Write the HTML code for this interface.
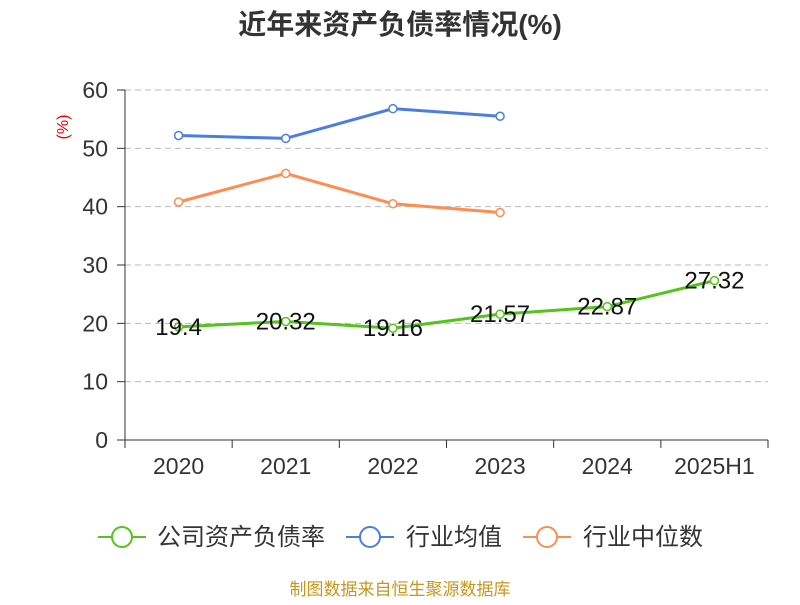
<!DOCTYPE html>
<html><head><meta charset="utf-8"><style>
body{margin:0;background:#fff;font-family:"Liberation Sans","Noto Sans CJK SC",sans-serif;}
</style></head><body>
<svg width="800" height="600" xmlns="http://www.w3.org/2000/svg" font-family="Liberation Sans, Noto Sans CJK SC, sans-serif">
<text x="400" y="34" text-anchor="middle" font-size="28" font-weight="bold" fill="#333">近年来资产负债率情况(%)</text>
<text x="68" y="127" text-anchor="middle" font-size="16" fill="#e00" transform="rotate(-90 68 127)">(%)</text>
<g id="grid"></g><g id="axes"></g><g id="series"></g>
<g>
<g><line x1="98" y1="537" x2="146" y2="537" stroke="#52c41a" stroke-width="2"/><circle cx="122" cy="537" r="10" fill="#fff" stroke="#52c41a" stroke-width="2"/><text x="157" y="545" font-size="24" fill="#333">公司资产负债率</text></g>
<g><line x1="346" y1="537" x2="394" y2="537" stroke="#4a7fe0" stroke-width="2"/><circle cx="370" cy="537" r="10" fill="#fff" stroke="#4a7fe0" stroke-width="2"/><text x="406" y="545" font-size="24" fill="#333">行业均值</text></g>
<g><line x1="523" y1="537" x2="571" y2="537" stroke="#ff8c50" stroke-width="2"/><circle cx="547" cy="537" r="10" fill="#fff" stroke="#ff8c50" stroke-width="2"/><text x="583" y="545" font-size="24" fill="#333">行业中位数</text></g>
</g>
<text x="400" y="595" text-anchor="middle" font-size="17" fill="#c8961e">制图数据来自恒生聚源数据库</text>
</svg>
<script>
const categories=["2020","2021","2022","2023","2024","2025H1"];
const companyVals=[19.4,20.32,19.16,21.57,22.87,27.32];
const avgVals=[52.2,51.7,56.8,55.5];
const medianVals=[40.8,45.7,40.5,39.0];
const yTicks=[0,10,20,30,40,50,60];
const NS="http://www.w3.org/2000/svg";
const x0=125,x1=768,y0=440,y1=90,ymax=60;
const bw=(x1-x0)/categories.length;
const xs=i=>x0+bw*(i+0.5);
const ys=v=>y0-(v/ymax)*(y0-y1);
function mk(t,a,p){const e=document.createElementNS(NS,t);for(const k in a)e.setAttribute(k,a[k]);p.appendChild(e);return e;}
const grid=document.getElementById('grid'),axes=document.getElementById('axes'),ser=document.getElementById('series');
yTicks.forEach(v=>{
 if(v>0){const g=mk('line',{x1:x0,x2:x1,y1:ys(v),y2:ys(v),stroke:'#bbb','stroke-dasharray':'6,4'},grid);
 
 }
 const t=mk('text',{x:x0-17,y:ys(v)+8,'text-anchor':'end','font-size':23,fill:'#333'},axes);t.textContent=v;
 
 
 mk('line',{x1:x0-8,x2:x0,y1:ys(v),y2:ys(v),stroke:'#333'},axes);
});
mk('line',{x1:x0,x2:x0,y1:y1,y2:y0,stroke:'#333'},axes);
mk('line',{x1:x0,x2:x1,y1:y0,y2:y0,stroke:'#333'},axes);
for(let i=0;i<=categories.length;i++)mk('line',{x1:x0+bw*i,x2:x0+bw*i,y1:y0,y2:y0+8,stroke:'#333'},axes);
categories.forEach((c,i)=>{const t=mk('text',{x:xs(i),y:474,'text-anchor':'middle','font-size':23,fill:'#333'},axes);t.textContent=c;
 
 });
function series(vals,color,name,labels){
 const p=mk('polyline',{points:vals.map((v,i)=>xs(i)+','+ys(v)).join(' '),fill:'none',stroke:color,'stroke-width':3},ser);
 
 
 vals.forEach((v,i)=>{const c=mk('circle',{cx:xs(i),cy:ys(v),r:4,fill:'#fff',stroke:color,'stroke-width':1.5},ser);
  
  
  if(labels){const t=mk('text',{x:xs(i),y:ys(v)+8,'text-anchor':'middle','font-size':24,fill:'#111'},ser);t.textContent=v;
   
   }});
}
series(avgVals,'#4a7fe0','industry-avg',false);
series(medianVals,'#ff8c50','industry-median',false);
series(companyVals,'#52c41a','company',true);
</script>
</body></html>
